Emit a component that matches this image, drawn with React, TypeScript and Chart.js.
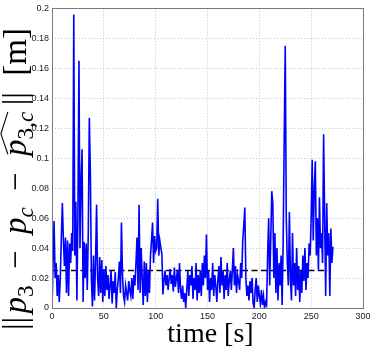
import React, { useEffect, useRef } from "react";
import { Chart, registerables } from "chart.js";

Chart.register(...registerables);

// sampling of the error signal (one sample per second, starting at t = 0 s)
const sampleStart = 0;
const samplePeriod = 1;

// ||p3 - pc - p̂3,c|| [m], t = 0 .. 271 s
const errorValues = [
  0.0, 0.03, 0.058, 0.02, 0.03, 0.008, 0.022, 0.004, 0.02, 0.047,
  0.07, 0.045, 0.028, 0.047, 0.01, 0.045, 0.008, 0.043, 0.03, 0.05,
  0.038, 0.196, 0.035, 0.071, 0.005, 0.062, 0.165, 0.04, 0.083, 0.106,
  0.004, 0.044, 0.02, 0.043, 0.012, 0.05, 0.127, 0.09, 0.02, 0.001,
  0.035, 0.005, 0.03, 0.069, 0.02, 0.008, 0.034, 0.01, 0.032, 0.004,
  0.026, 0.008, 0.028, 0.012, 0.022, 0.006, 0.015, 0.025, 0.003, 0.018,
  0.01, 0.024, 0.0, 0.012, 0.02, 0.031, 0.01, 0.057, 0.022, 0.008,
  0.004, 0.015, 0.01, 0.005, 0.018, 0.012, 0.008, 0.02, 0.006, 0.022,
  0.015, 0.03, 0.047, 0.012, 0.069, 0.01, 0.04, 0.02, 0.002, 0.031,
  0.008, 0.03, 0.004, 0.025, 0.01, 0.035, 0.045, 0.057, 0.03, 0.048,
  0.038, 0.04, 0.073, 0.035, 0.045, 0.04, 0.036, 0.009, 0.018, 0.025,
  0.015, 0.022, 0.012, 0.02, 0.026, 0.016, 0.022, 0.011, 0.027, 0.014,
  0.02, 0.025, 0.01, 0.03, 0.012, 0.006, 0.015, 0.004, 0.01, 0.0,
  0.012, 0.025, 0.008, 0.022, 0.015, 0.028, 0.006, 0.02, 0.012, 0.03,
  0.005, 0.022, 0.01, 0.025, 0.008, 0.03, 0.015, 0.035, 0.02, 0.049,
  0.012, 0.025, 0.004, 0.02, 0.012, 0.03, 0.008, 0.022, 0.015, 0.004,
  0.018, 0.028, 0.01, 0.034, 0.015, 0.025, 0.006, 0.022, 0.012, 0.03,
  0.008, 0.018, 0.025, 0.012, 0.026, 0.04, 0.015, 0.028, 0.01, 0.022,
  0.018, 0.012, 0.03, 0.02, 0.045, 0.055, 0.067, 0.02, 0.008, 0.015,
  0.005, 0.018, 0.01, 0.02, 0.003, 0.0, 0.012, 0.02, 0.004, 0.015,
  0.008, 0.003, 0.012, 0.002, 0.008, 0.0, 0.004, 0.002, 0.035, 0.06,
  0.015, 0.045, 0.078, 0.07, 0.02, 0.05, 0.01, 0.04, 0.005, 0.03,
  0.015, 0.035, 0.002, 0.045, 0.113, 0.175, 0.06, 0.03, 0.015, 0.064,
  0.02, 0.005, 0.05, 0.015, 0.03, 0.008, 0.04, 0.012, 0.028, 0.004,
  0.025, 0.01, 0.035, 0.018, 0.04, 0.012, 0.03, 0.02, 0.043, 0.035,
  0.06, 0.099, 0.045, 0.08, 0.098, 0.035, 0.06, 0.025, 0.074, 0.04,
  0.05, 0.03, 0.116, 0.06, 0.008, 0.07, 0.035, 0.05, 0.008, 0.053,
  0.03, 0.041,
];

// dashed reference level
const thresholdValue = 0.025;
const thresholdStart = 0;
const thresholdEnd = 266;

const xTickValues = [0, 50, 100, 150, 200, 250, 300];
const xTickLabels = ["0", "50", "100", "150", "200", "250", "300"];
const yTickValues = [0, 0.02, 0.04, 0.06, 0.08, 0.1, 0.12, 0.14, 0.16, 0.18, 0.2];
const yTickLabels = ["0", "0.02", "0.04", "0.06", "0.08", "0.1", "0.12", "0.14", "0.16", "0.18", "0.2"];

const xTitle = "time [s]";

const SERIF = '"Liberation Serif", "DejaVu Serif", serif';

type Seg = { t: string; s?: number; it?: boolean; dy?: number; pre?: number; hatStart?: boolean; hatEnd?: boolean };

const yTitleSegs: Seg[] = [
  { t: "||" },
  { t: "p", it: true, pre: 0.06 },
  { t: "3", s: 0.7, dy: 0.2 },
  { t: "−", pre: 0.3 },
  { t: "p", it: true, pre: 0.3 },
  { t: "c", s: 0.7, it: true, dy: 0.2 },
  { t: "−", pre: 0.3 },
  { t: "p", it: true, pre: 0.3, hatStart: true },
  { t: "3,", s: 0.7, dy: 0.2 },
  { t: "c", s: 0.7, it: true, dy: 0.2, hatEnd: true },
  { t: "||", pre: 0.12 },
  { t: "[m]", pre: 0.3 },
];

function fontFor(seg: Seg, size: number) {
  const sz = size * (seg.s ?? 1);
  return `${seg.it ? "italic " : ""}${sz}px ${SERIF}`;
}

function drawYTitle(ctx: CanvasRenderingContext2D, baseX: number, centerY: number, length: number, size: number) {
  ctx.save();
  let natural = 0;
  let weight = 0;
  for (const seg of yTitleSegs) {
    ctx.font = fontFor(seg, size);
    natural += ctx.measureText(seg.t).width;
    weight += seg.pre ?? 0;
  }
  const unit = Math.max(0, (length - natural) / weight);
  ctx.translate(baseX, centerY);
  ctx.rotate(-Math.PI / 2);
  ctx.fillStyle = "#000";
  ctx.textBaseline = "alphabetic";
  ctx.textAlign = "left";
  let x = -length / 2;
  let hatX0 = 0;
  for (const seg of yTitleSegs) {
    ctx.font = fontFor(seg, size);
    x += (seg.pre ?? 0) * unit;
    if (seg.hatStart) hatX0 = x;
    ctx.fillText(seg.t, x, (seg.dy ?? 0) * size);
    x += ctx.measureText(seg.t).width;
    if (seg.hatEnd) {
      const y0 = -0.55 * size;
      const y1 = -0.76 * size;
      ctx.beginPath();
      ctx.moveTo(hatX0 + 0.05 * size, y0);
      ctx.lineTo((hatX0 + x) / 2, y1);
      ctx.lineTo(x, y0);
      ctx.lineWidth = 1.1;
      ctx.strokeStyle = "#000";
      ctx.stroke();
    }
  }
  ctx.restore();
}

const framePlugin = {
  id: "frameAndTitles",
  afterDraw(chart: any) {
    const { ctx, chartArea } = chart;
    const { left, right, top, bottom } = chartArea;
    ctx.save();
    ctx.strokeStyle = "#7a7a7a";
    ctx.lineWidth = 1;
    ctx.setLineDash([]);
    ctx.strokeRect(Math.round(left) + 0.5, Math.round(top) + 0.5, Math.round(right - left), Math.round(bottom - top));
    ctx.fillStyle = "#000";
    ctx.font = `28px ${SERIF}`;
    ctx.textAlign = "center";
    ctx.textBaseline = "alphabetic";
    ctx.fillText(xTitle, (left + right) / 2 + 3, 342);
    ctx.restore();
    drawYTitle(ctx, 26, 179, 302, 33);
  },
};

export default function App() {
  const ref = useRef<HTMLCanvasElement | null>(null);

  useEffect(() => {
    if (!ref.current) return;
    const lineData = errorValues.map((v, i) => ({ x: sampleStart + i * samplePeriod, y: v }));
    const thresholdData = [
      { x: thresholdStart, y: thresholdValue },
      { x: thresholdEnd, y: thresholdValue },
    ];
    const tickFont = { family: '"Liberation Sans", Arial, sans-serif', size: 9 };
    const chart = new Chart(ref.current, {
      type: "line",
      data: {
        datasets: [
          {
            data: lineData,
            borderColor: "#0000ff",
            borderWidth: 1.6,
            pointRadius: 0,
            tension: 0,
            fill: false,
          },
          {
            data: thresholdData,
            borderColor: "#000000",
            borderWidth: 1.5,
            borderDash: [6, 3.5],
            pointRadius: 0,
            fill: false,
          },
        ],
      },
      options: {
        animation: false,
        responsive: false,
        devicePixelRatio: 1,
        layout: { padding: { left: 0, right: 11, top: 7, bottom: 0 } },
        plugins: { legend: { display: false }, tooltip: { enabled: false } },
        scales: {
          x: {
            type: "linear",
            min: 0,
            max: 300,
            afterBuildTicks: (s: any) => {
              s.ticks = xTickValues.map((v) => ({ value: v }));
            },
            afterFit: (s: any) => {
              s.height = 42;
            },
            ticks: {
              padding: 3,
              color: "#222",
              font: tickFont,
              maxRotation: 0,
              autoSkip: false,
              callback: (_v: any, i: number) => xTickLabels[i],
            },
            grid: { color: "#c4c4c4", lineWidth: 1, drawTicks: false },
            border: { display: false, dash: [1, 2] },
          },
          y: {
            type: "linear",
            min: 0,
            max: 0.2,
            afterBuildTicks: (s: any) => {
              s.ticks = yTickValues.map((v) => ({ value: v }));
            },
            afterFit: (s: any) => {
              s.width = 52;
            },
            ticks: {
              padding: 3,
              color: "#222",
              font: tickFont,
              autoSkip: false,
              callback: (_v: any, i: number) => yTickLabels[i],
            },
            grid: { color: "#c4c4c4", lineWidth: 1, drawTicks: false },
            border: { display: false, dash: [1, 2] },
          },
        },
      },
      plugins: [framePlugin],
    });
    return () => chart.destroy();
  }, []);

  return (
    <div style={{ position: "fixed", left: 0, top: 0, width: 374, height: 350, background: "#fff" }}>
      <canvas ref={ref} width={374} height={350} style={{ width: 374, height: 350, display: "block" }} />
    </div>
  );
}
